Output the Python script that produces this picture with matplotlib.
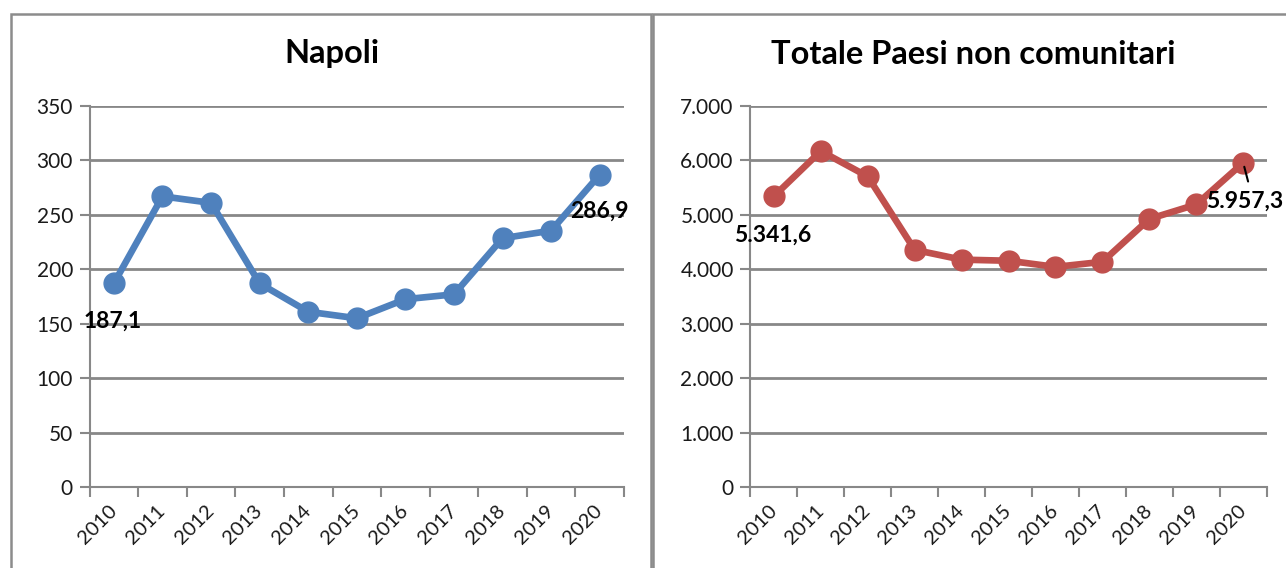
import matplotlib.pyplot as plt
from matplotlib.patches import Rectangle
from matplotlib.ticker import FuncFormatter, FixedLocator

plt.rcParams['font.family'] = ['Lato', 'DejaVu Sans']

years = ['2010', '2011', '2012', '2013', '2014', '2015', '2016', '2017', '2018', '2019', '2020']
napoli = [187.1, 267.0, 261.0, 187.0, 161.0, 155.0, 172.5, 177.0, 228.5, 235.5, 286.9]
non_ue = [5341.6, 6172.0, 5705.0, 4357.0, 4177.0, 4157.0, 4044.0, 4137.0, 4925.0, 5191.0, 5957.3]

W, H = 1286, 568
fig = plt.figure(figsize=(W / 100, H / 100), dpi=100)

GRID = '#888888'


def px_axes(x0, y0, x1, y1):
    return fig.add_axes([x0 / W, 1 - y1 / H, (x1 - x0) / W, (y1 - y0) / H])


def it_num(v, _pos=None):
    return f"{int(round(v)):,}".replace(',', '.')


def it_dec(v):
    s = f"{v:,.1f}"
    return s.replace(',', 'X').replace('.', ',').replace('X', '.')


def style(ax, values, color, ymax, step):
    x = list(range(len(values)))
    ax.plot(x, values, color=color, lw=4.8, marker='o', ms=15, zorder=3,
            solid_capstyle='round', clip_on=False)
    ax.set_xlim(-0.5, len(values) - 0.5)
    ax.set_ylim(0, ymax)
    ax.set_yticks([i * step for i in range(int(ymax / step) + 1)])
    ax.yaxis.set_major_formatter(FuncFormatter(it_num))
    ax.yaxis.grid(True, color=GRID, lw=2)
    ax.set_axisbelow(True)
    for s in ['top', 'right']:
        ax.spines[s].set_visible(False)
    for s in ['left', 'bottom']:
        ax.spines[s].set_color(GRID)
        ax.spines[s].set_linewidth(1.5)
    ax.tick_params(axis='y', length=7, width=1.5, color=GRID, labelsize=15,
                   labelcolor='#1a1a1a', pad=5)
    ax.set_xticks(x)
    ax.set_xticklabels(years, rotation=45, ha='right', va='center',
                       rotation_mode='anchor', fontsize=14.5, color='#1a1a1a')
    ax.tick_params(axis='x', which='major', length=0, pad=15)
    ax.xaxis.set_minor_locator(FixedLocator([i - 0.5 for i in range(len(values) + 1)]))
    ax.tick_params(axis='x', which='minor', length=7, width=1.5, color=GRID)


def label(ax, i, values, dx, dy):
    ax.annotate(it_dec(values[i]), (i, values[i]), xytext=(dx, dy),
                textcoords='offset points', fontsize=16.5, fontweight='bold',
                ha='left', va='center', annotation_clip=False, zorder=5)


# outer frames
fig.add_artist(Rectangle((11 / W, -0.1), 640 / W, 1.1 - 14 / H, transform=fig.transFigure,
                         fill=False, ec='#8c8c8c', lw=1.8))
fig.add_artist(Rectangle((653 / W, -0.1), 700 / W, 1.1 - 14 / H, transform=fig.transFigure,
                         fill=False, ec='#8c8c8c', lw=1.8))

ax1 = px_axes(89.6, 106, 624, 487)
style(ax1, napoli, '#4F81BD', 350, 50)
fig.text(332 / W, 1 - 54 / H, 'Napoli', ha='center', va='center',
         fontsize=23.5, fontweight='bold')
label(ax1, 0, napoli, -22, -27)
label(ax1, 10, napoli, -21, -26)

ax2 = px_axes(750.4, 106, 1266.7, 487)
style(ax2, non_ue, '#C0504D', 7000, 1000)
fig.text(973 / W, 1 - 54 / H, 'Totale Paesi non comunitari', ha='center', va='center',
         fontsize=23.5, fontweight='bold')
label(ax2, 0, non_ue, -29, -28)
label(ax2, 10, non_ue, -27, -28)
# leader line from the last point to its label
ax2.annotate('', xy=(10, non_ue[-1]), xytext=(3.5, -13.5), textcoords='offset points',
             arrowprops=dict(arrowstyle='-', color='black', lw=1.5,
                             shrinkA=0, shrinkB=3), annotation_clip=False, zorder=5)

fig.savefig('out.png', dpi=100)
